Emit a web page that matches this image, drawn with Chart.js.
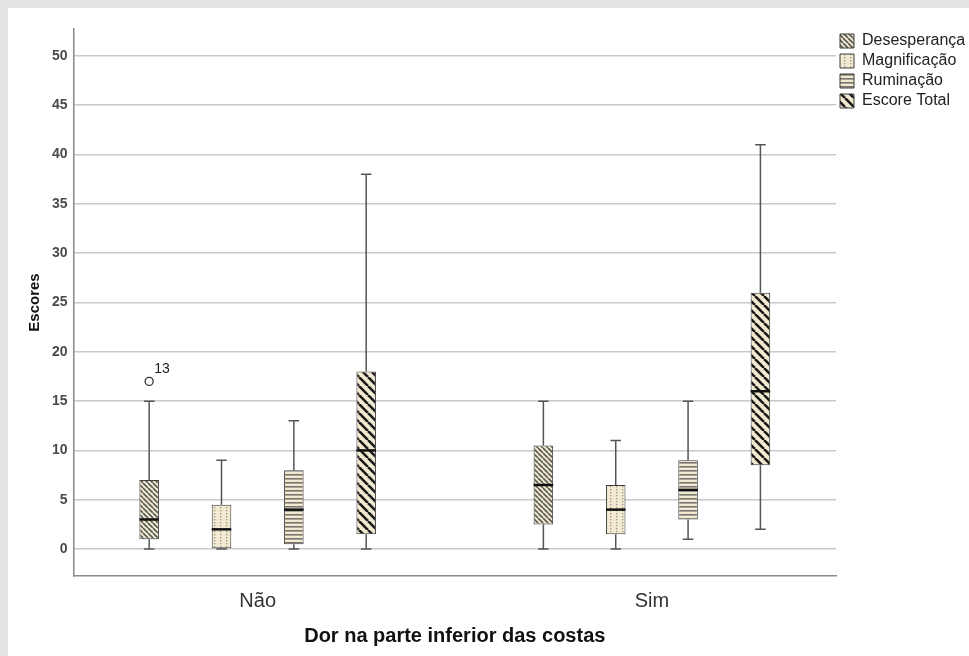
<!DOCTYPE html>
<html>
<head>
<meta charset="utf-8">
<script src="https://cdn.jsdelivr.net/npm/chart.js@4.4.1/dist/chart.umd.min.js"></script>
<style>
  html, body { margin: 0; padding: 0; background: #e3e3e3; }
  #wrap { position: absolute; left: 8px; top: 8px; width: 961px; height: 648px; background: #fff; }
</style>
</head>
<body>
<div id="wrap"><canvas id="chart"></canvas></div>
<script>
// categories on the x axis and series in the legend
const categories = ['Não', 'Sim'];
const seriesNames = ['Desesperança', 'Magnificação', 'Ruminação', 'Escore Total'];

// [min, Q1, median, Q3, max] per category
const desesperanca = [[0, 1, 3, 7, 15], [0, 2.5, 6.5, 10.5, 15]];
const magnificacao = [[0, 0, 2, 4.5, 9], [0, 1.5, 4, 6.5, 11]];
const ruminacao = [[0, 0.5, 4, 8, 13], [1, 3, 6, 9, 15]];
const escoreTotal = [[0, 1.5, 10, 18, 38], [2, 8.5, 16, 26, 41]];

// outliers: series index, category index, value, case label
const outliers = [[0, 0, 17, '13']];

const yTicks = [0, 5, 10, 15, 20, 25, 30, 35, 40, 45, 50];

const summaries = [desesperanca, magnificacao, ruminacao, escoreTotal];

const CREAM = '#f1ead1';
const FONT = "'Liberation Sans', Arial, sans-serif";

function tile(size, draw) {
  const c = document.createElement('canvas');
  c.width = size; c.height = size;
  const g = c.getContext('2d');
  g.fillStyle = CREAM;
  g.fillRect(0, 0, size, size);
  draw(g, size);
  return document.createElement('canvas').getContext('2d').createPattern(c, 'repeat');
}

function diagonal(size, width, color) {
  return tile(size, (g, s) => {
    g.strokeStyle = color;
    g.lineWidth = width;
    g.beginPath();
    [-s, 0, s].forEach(o => { g.moveTo(o, 0); g.lineTo(o + s, s); });
    g.stroke();
  });
}

const patterns = [
  diagonal(5, 1.6, '#5a5a55'),
  tile(6, (g) => { g.fillStyle = '#9a968a'; g.fillRect(2, 1, 1.3, 1.3); g.fillRect(2, 4, 1.3, 1.3); }),
  tile(4, (g) => { g.fillStyle = '#77756d'; g.fillRect(0, 2, 4, 1.6); }),
  diagonal(9, 2.6, '#1a1a1a')
];

const datasets = seriesNames.map((name, i) => ({
  label: name,
  data: summaries[i].map((s, j) => ({ x: j + 1, y: [s[1], s[3]] })),
  backgroundColor: patterns[i],
  borderColor: '#3c3c3c',
  borderWidth: 1,
  borderSkipped: false,
  categoryPercentage: 0.734,
  barPercentage: 0.27
}));

const boxPlot = {
  id: 'boxPlot',
  beforeDatasetsDraw(chart) {
    const ctx = chart.ctx, y = chart.scales.y;
    ctx.save();
    ctx.strokeStyle = '#555';
    ctx.lineWidth = 1.5;
    summaries.forEach((series, i) => {
      chart.getDatasetMeta(i).data.forEach((el, j) => {
        const s = series[j];
        const cap = el.width * 0.27;
        ctx.beginPath();
        ctx.moveTo(el.x, y.getPixelForValue(s[0]));
        ctx.lineTo(el.x, y.getPixelForValue(s[1]));
        ctx.moveTo(el.x, y.getPixelForValue(s[3]));
        ctx.lineTo(el.x, y.getPixelForValue(s[4]));
        ctx.moveTo(el.x - cap, y.getPixelForValue(s[0]));
        ctx.lineTo(el.x + cap, y.getPixelForValue(s[0]));
        ctx.moveTo(el.x - cap, y.getPixelForValue(s[4]));
        ctx.lineTo(el.x + cap, y.getPixelForValue(s[4]));
        ctx.stroke();
      });
    });
    ctx.restore();
  },
  afterDatasetsDraw(chart) {
    const ctx = chart.ctx, y = chart.scales.y;
    ctx.save();
    ctx.strokeStyle = '#111';
    ctx.lineWidth = 2.5;
    summaries.forEach((series, i) => {
      chart.getDatasetMeta(i).data.forEach((el, j) => {
        const py = y.getPixelForValue(series[j][2]);
        ctx.beginPath();
        ctx.moveTo(el.x - el.width / 2, py);
        ctx.lineTo(el.x + el.width / 2, py);
        ctx.stroke();
      });
    });
    outliers.forEach(([si, ci, v, label]) => {
      const el = chart.getDatasetMeta(si).data[ci];
      const py = y.getPixelForValue(v);
      ctx.beginPath();
      ctx.arc(el.x, py, 4, 0, Math.PI * 2);
      ctx.fillStyle = '#fff';
      ctx.fill();
      ctx.strokeStyle = '#333';
      ctx.lineWidth = 1.3;
      ctx.stroke();
      ctx.fillStyle = '#222';
      ctx.font = '14px ' + FONT;
      ctx.textBaseline = 'alphabetic';
      ctx.fillText(label, el.x + 5, py - 8);
    });
    ctx.restore();
  }
};

new Chart(document.getElementById('chart'), {
  type: 'bar',
  data: { datasets },
  plugins: [boxPlot],
  options: {
    responsive: true,
    maintainAspectRatio: false,
    animation: false,
    layout: { padding: { top: 21, left: 18, bottom: 8, right: 0 } },
    plugins: {
      tooltip: { enabled: false },
      legend: {
        position: 'right',
        align: 'start',
        maxWidth: 133,
        labels: {
          boxWidth: 14,
          boxHeight: 14,
          padding: 4,
          color: '#222',
          font: { family: FONT, size: 16 }
        }
      }
    },
    scales: {
      x: {
        type: 'linear',
        offset: false,
        min: 0.533,
        max: 2.467,
        afterBuildTicks: (scale) => { scale.ticks = categories.map((c, i) => ({ value: i + 1 })); },
        ticks: {
          callback: (v) => categories[v - 1],
          color: '#333',
          padding: 5,
          font: { family: FONT, size: 20 }
        },
        grid: { display: false, offset: false },
        border: { display: true, color: '#8a8a8a', width: 1.5 },
        title: {
          display: true,
          text: 'Dor na parte inferior das costas',
          color: '#111',
          padding: { top: 6, bottom: 0 },
          font: { family: FONT, size: 20, weight: 'bold' }
        }
      },
      y: {
        min: -2.73,
        max: 52.73,
        afterBuildTicks: (scale) => { scale.ticks = yTicks.map(v => ({ value: v })); },
        ticks: {
          color: '#4a4a4a',
          padding: 6,
          font: { family: FONT, size: 14, weight: 'bold' }
        },
        grid: { color: '#c9c9c9', lineWidth: 1.5, drawTicks: false },
        border: { display: true, color: '#8a8a8a', width: 1.5 },
        title: {
          display: true,
          text: 'Escores',
          color: '#111',
          padding: { top: 0, bottom: 2 },
          font: { family: FONT, size: 15, weight: 'bold' }
        }
      }
    }
  }
});
</script>
</body>
</html>
